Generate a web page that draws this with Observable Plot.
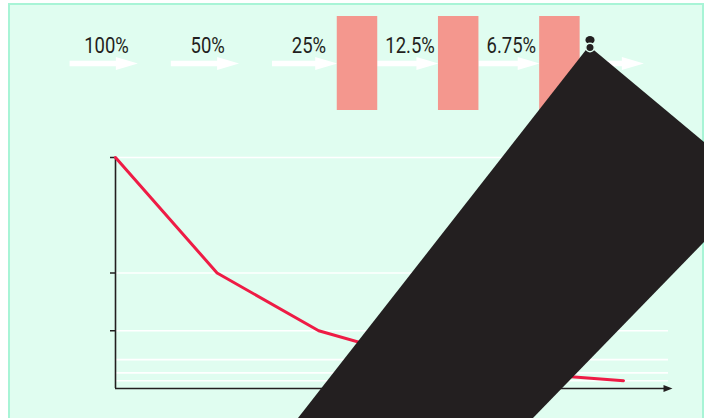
<!DOCTYPE html>
<html>
<head>
<meta charset="utf-8">
<script src="https://cdn.jsdelivr.net/npm/d3@7"></script>
<script src="https://cdn.jsdelivr.net/npm/@observablehq/plot@0.6"></script>
<style>
  html, body { margin: 0; padding: 0; background: #ffffff; }
  #stage { position: relative; width: 704px; height: 418px; overflow: hidden; }
  #box { position: absolute; left: 8px; top: 3px; width: 692px; height: 440px;
         border: 2px solid #a8f4d6; background: #e0fdf0; }
  .layer { position: absolute; left: 0; top: 0; }
</style>
</head>
<body>
<div id="stage">
  <div id="box"></div>
  <div id="flow" class="layer"></div>
  <div id="chart" class="layer"></div>
  <svg id="cover" class="layer" width="704" height="418">
    <polygon points="589,46 704,142 704,242 533,418 298,418" fill="#231f20"/>
    <ellipse cx="590" cy="40" rx="4.6" ry="4" fill="#231f20"/>
    <circle cx="590" cy="47.5" r="4.2" fill="#231f20" stroke="#e0fdf0" stroke-width="1.4"/>
  </svg>
</div>
<script>
// ---- data ----
const steps = [0, 1, 2, 3, 4, 5];
const stepLabels = ["100%", "50%", "25%", "12.5%", "6.75%"];
const filterSteps = [2, 3, 4];          // a filter block sits after these steps
const remaining = [100, 50, 25, 12.5, 6.75, 3.375];
const yTicks = [25, 50, 100];

const ink = "#231f20";
const pink = "#f4978e";
const red = "#ee1c45";
const font = "Roboto, 'Liberation Sans', sans-serif";

// ---- top flow diagram ----
const half = 0.2; // half width of a filter block (step units)
const arrows = steps.map(i => {
  const prevF = filterSteps.includes(i - 1);
  const nextF = filterSteps.includes(i);
  const start = prevF ? i - 0.5 + half : i - 0.34;
  const tip = nextF ? i + 0.5 - half : i + 0.33;
  return {i, start, tip};
});
const arrowHead = {
  draw(context) {
    context.moveTo(-22, -6.5);
    context.lineTo(0, 0);
    context.lineTo(-22, 6.5);
    context.closePath();
  }
};

const flow = Plot.plot({
  width: 704,
  height: 130,
  margin: 0,
  x: {domain: [0, 5], range: [104, 610]},
  y: {domain: [0, 1], range: [110, 16]},
  axis: null,
  style: {background: "transparent", fontFamily: font},
  marks: [
    Plot.ruleY(arrows, {y: 0.5, x1: "start", x2: d => d.tip - 0.2, stroke: "white", strokeWidth: 5.5}),
    Plot.dot(arrows, {x: "tip", y: 0.5, symbol: arrowHead, fill: "white", stroke: null}),
    Plot.rect(filterSteps, {x1: d => d + 0.5 - half, x2: d => d + 0.5 + half, y1: 0, y2: 1, fill: pink}),
    Plot.text(stepLabels, {x: (d, i) => i + 0.02, y: 0.685, text: d => d, fontSize: 22.5, fill: ink, textAnchor: "middle", lineAnchor: "middle"})
  ]
});
document.getElementById("flow").append(flow);
// condense the label type to match the narrow face of the original
flow.querySelectorAll("text").forEach(t => {
  const w = t.getComputedTextLength();
  t.setAttribute("textLength", (w * 0.82).toFixed(1));
  t.setAttribute("lengthAdjust", "spacingAndGlyphs");
});

// ---- line chart ----
const axisHead = {
  draw(context) {
    context.moveTo(-9, -3.5);
    context.lineTo(0, 0);
    context.lineTo(-9, 3.5);
    context.closePath();
  }
};

const chart = Plot.plot({
  width: 704,
  height: 418,
  marginLeft: 115,
  marginRight: 36,
  marginTop: 157,
  marginBottom: 30,
  x: {domain: [0, 5], range: [115, 623], axis: null},
  y: {domain: [0, 100]},
  style: {background: "transparent"},
  marks: [
    Plot.ruleY(remaining, {stroke: "white", strokeWidth: 1.6}),
    Plot.axisY({ticks: yTicks, tickFormat: () => "", tickSize: 5, stroke: ink, strokeWidth: 1.5, label: null}),
    Plot.ruleX([0], {y1: 0, y2: 100, stroke: ink, strokeWidth: 1.6}),
    Plot.ruleY([0], {stroke: ink, strokeWidth: 1.6}),
    Plot.dot([0], {y: d => d, frameAnchor: "right", dx: 4, symbol: axisHead, fill: ink, stroke: null}),
    Plot.line(steps, {x: d => d, y: d => remaining[d], stroke: red, strokeWidth: 3})
  ]
});
document.getElementById("chart").append(chart);
</script>
</body>
</html>
